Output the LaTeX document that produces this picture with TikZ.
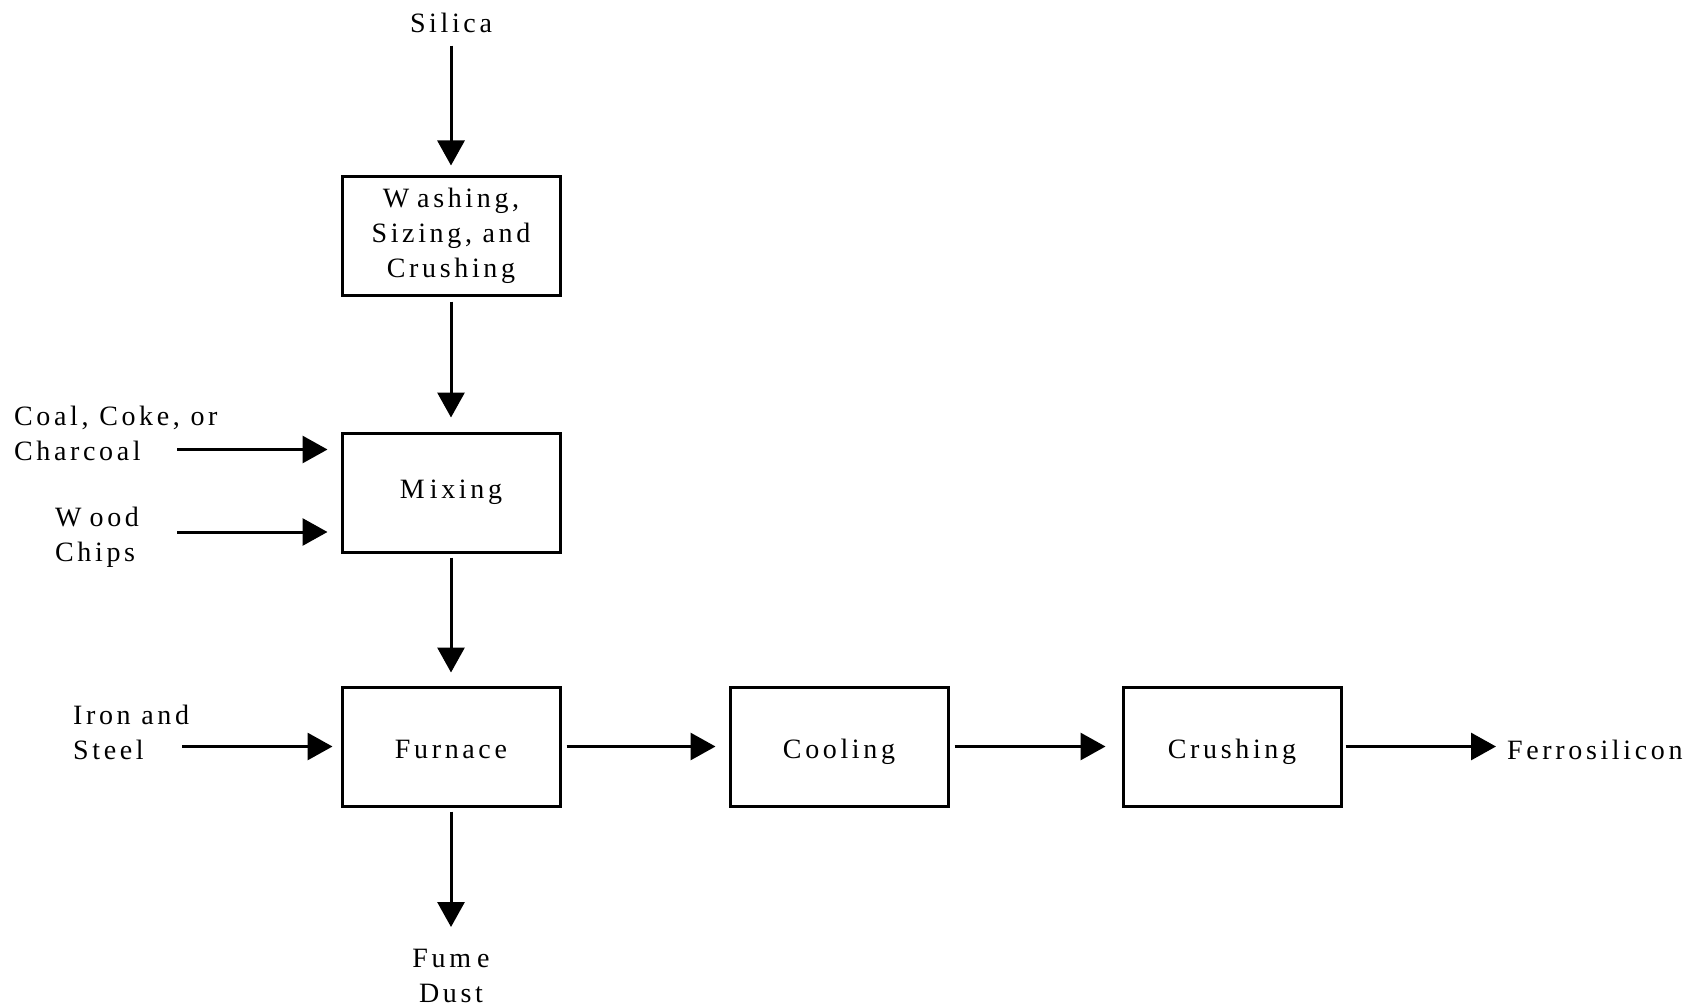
\documentclass[tikz,border=0pt]{standalone}
\usepackage{fontspec}
\setmainfont{Liberation Serif}[LetterSpace=13.0]
\usetikzlibrary{arrows.meta}

\begin{document}
\begin{tikzpicture}[
    x=1pt, y=-1pt,
    every node/.style={font=\fontsize{28}{35}\selectfont},
    proc/.style={draw, line width=3pt, minimum width=218pt, minimum height=119pt,
                 inner sep=0pt, align=center},
    lowtext/.style={text height=23pt, text depth=0pt},
    lbl/.style={inner sep=0pt},
    flow/.style={line width=3pt, -{Triangle[length=25pt,width=27pt]}},
  ]
  \useasboundingbox (0,0) rectangle (1686,1006);

  % process boxes
  \node[proc] (wash)  at (451,235.5) {W\kern8pt ashing,\\Sizing, and\\Crushing};
  \node[proc] (mix)   at (451,492.5) {M\kern5pt ixing};
  \node[proc,lowtext] (furn)  at (451,746.5) {Furnace};
  \node[proc,lowtext] (cool)  at (839,746.5)   {Cooling};
  \node[proc,lowtext] (crush) at (1232,746.5)  {Crushing};

  % raw materials and products
  \node[lbl] (silica) at (451,22.5) {Silica};
  \node[lbl,anchor=west,align=left] (coal) at (14,433.5) {Coal, Coke, or\\Charcoal};
  \node[lbl,anchor=west,align=left] (wood) at (55,537.5) {W\kern8pt ood\\Chips};
  \node[lbl,anchor=west,align=left] (iron) at (73,732.5) {Iron and\\Steel};
  \node[lbl,align=center] (fume) at (451,976) {Fum\kern6pt e\\Dust};
  \node[lbl,anchor=west] (ferro) at (1507,749.5) {Ferrosilicon};

  % free ends of the side feeds
  \coordinate (coalin) at (177,449.5);
  \coordinate (woodin) at (177,532);
  \coordinate (ironin) at (182,746.5);

  % main vertical line
  \draw[flow, shorten <=13pt, shorten >=9pt] (silica.south) -- (wash.north);
  \draw[flow, shorten <=5pt, shorten >=14pt] (wash.south) -- (mix.north);
  \draw[flow, shorten <=4pt, shorten >=13pt] (mix.south) -- (furn.north);
  \draw[flow, shorten <=4pt, shorten >=22pt] (furn.south) -- (fume.north);

  % side feeds
  \draw[flow, shorten >=13pt] (coalin) -- (coalin -| mix.west);
  \draw[flow, shorten >=13pt] (woodin) -- (woodin -| mix.west);
  \draw[flow, shorten >=8pt]  (ironin) -- (ironin -| furn.west);

  % product line
  \draw[flow, shorten <=5pt, shorten >=13pt] (furn.east) -- (cool.west);
  \draw[flow, shorten <=5pt, shorten >=16pt] (cool.east) -- (crush.west);
  \draw[flow, shorten <=3pt, shorten >=11pt] (crush.east) -- (crush.east -| ferro.west);
\end{tikzpicture}
\end{document}
